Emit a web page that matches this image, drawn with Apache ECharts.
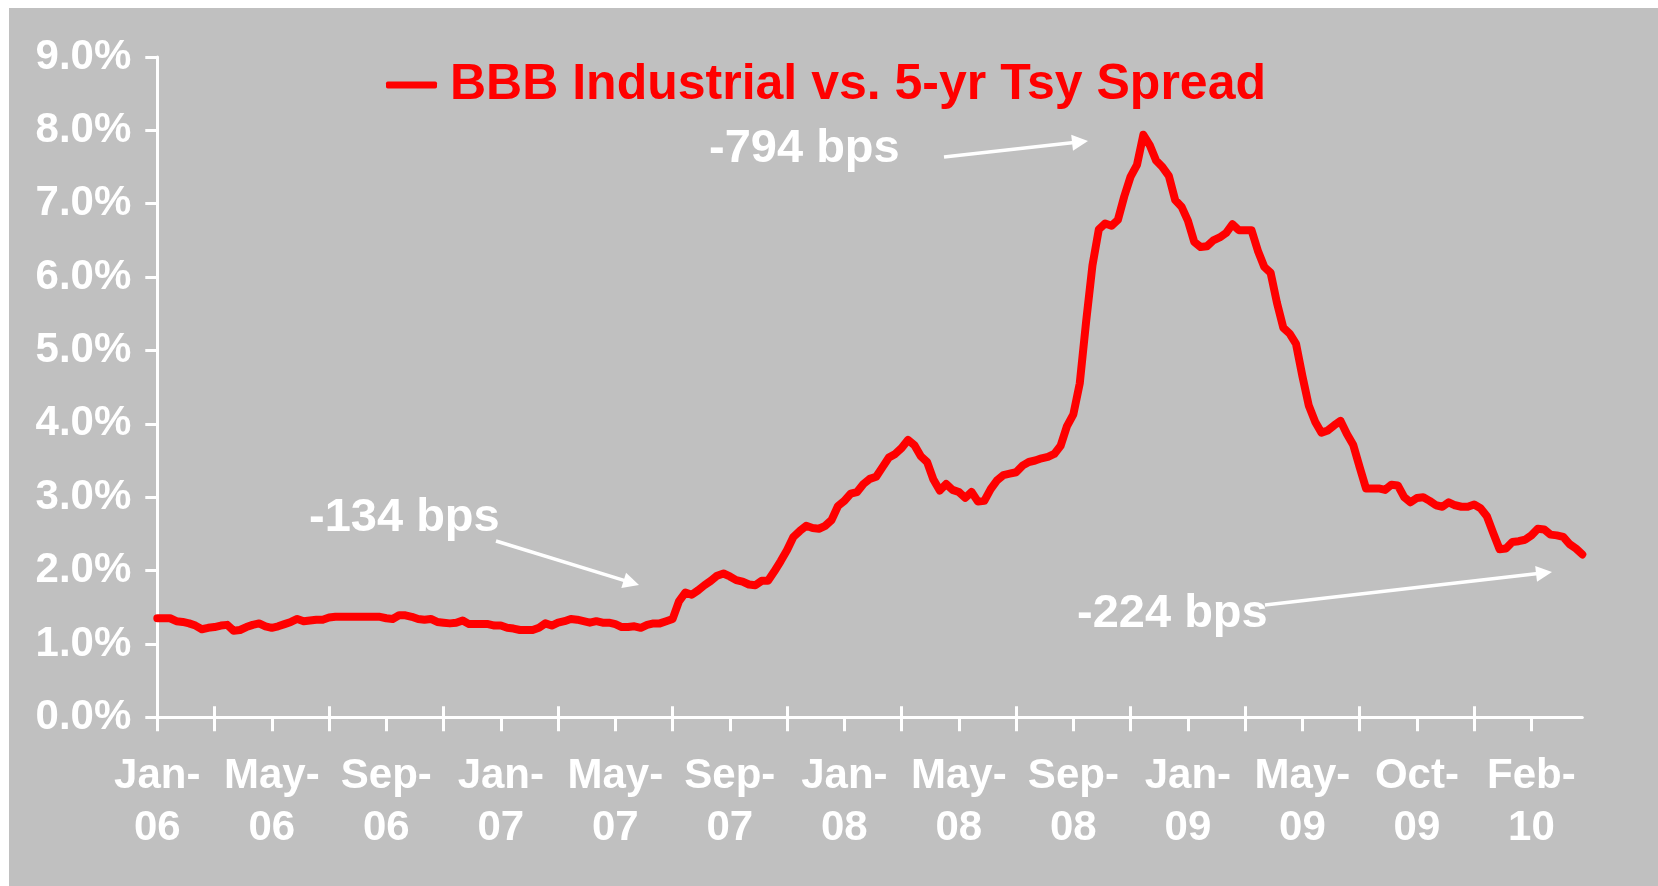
<!DOCTYPE html>
<html>
<head>
<meta charset="utf-8">
<script src="https://cdn.jsdelivr.net/npm/echarts@6/dist/echarts.min.js"></script>
<style>
  html, body { margin: 0; padding: 0; background: #ffffff; }
  #chart { width: 1658px; height: 886px; }
</style>
</head>
<body>
<div id="chart"></div>
<script>
// ---- data (weekly observations, Jan-06 .. Apr-10) ----
const seriesName = 'BBB Industrial vs. 5-yr Tsy Spread';
const tickLabels = ['Jan-06','May-06','Sep-06','Jan-07','May-07','Sep-07','Jan-08','May-08','Sep-08','Jan-09','May-09','Oct-09','Feb-10'];
const spread = [
  1.35,1.35,1.35,1.31,1.30,1.28,1.25,1.20,1.22,1.23,
  1.25,1.26,1.18,1.19,1.23,1.26,1.28,1.24,1.22,1.24,
  1.27,1.30,1.34,1.31,1.32,1.33,1.33,1.36,1.37,1.37,
  1.37,1.37,1.37,1.37,1.37,1.37,1.35,1.34,1.39,1.39,
  1.37,1.34,1.33,1.34,1.30,1.29,1.28,1.29,1.32,1.27,
  1.27,1.27,1.27,1.25,1.25,1.22,1.21,1.19,1.19,1.19,
  1.22,1.28,1.25,1.29,1.31,1.34,1.33,1.31,1.29,1.31,
  1.29,1.29,1.27,1.23,1.23,1.24,1.22,1.26,1.28,1.28,
  1.31,1.34,1.58,1.70,1.67,1.73,1.80,1.86,1.93,1.96,
  1.92,1.87,1.85,1.81,1.80,1.86,1.86,1.99,2.13,2.28,
  2.46,2.54,2.61,2.58,2.57,2.61,2.69,2.88,2.95,3.05,
  3.07,3.18,3.25,3.28,3.41,3.54,3.59,3.67,3.78,3.71,
  3.56,3.48,3.24,3.09,3.18,3.10,3.07,2.99,3.07,2.94,
  2.95,3.11,3.23,3.30,3.32,3.34,3.43,3.48,3.50,3.53,
  3.55,3.59,3.70,3.97,4.13,4.55,5.39,6.16,6.65,6.73,
  6.70,6.78,7.10,7.37,7.53,7.94,7.80,7.59,7.50,7.38,
  7.05,6.96,6.77,6.48,6.41,6.42,6.50,6.54,6.60,6.72,
  6.64,6.64,6.64,6.36,6.14,6.06,5.65,5.31,5.23,5.09,
  4.65,4.25,4.03,3.88,3.91,3.98,4.04,3.86,3.71,3.41,
  3.12,3.12,3.12,3.10,3.17,3.16,3.00,2.93,2.99,3.00,
  2.95,2.89,2.87,2.93,2.89,2.87,2.87,2.90,2.85,2.74,
  2.51,2.29,2.30,2.39,2.40,2.42,2.48,2.57,2.56,2.49,
  2.48,2.46,2.36,2.30,2.22
];
const weeks = spread.map((_, i) => 'w' + i);   // one category per weekly observation
const TICK_EVERY = 9;       // categories between tick marks
const LABEL_EVERY = 18;     // categories between labels
const annotations = [
  { text: '-794 bps', x: 709, y: 149, from: [944, 157], to: [1088, 141] },
  { text: '-134 bps', x: 309, y: 518, from: [496, 541], to: [639, 585] },
  { text: '-224 bps', x: 1077, y: 614, from: [1265, 605], to: [1552, 572] }
];

const FONT = "'Liberation Sans', Arial, Helvetica, sans-serif";
const WHITE = '#FFFFFF';
const RED = '#FF0000';

function arrow(a) {
  const [x1, y1] = a.from, [x2, y2] = a.to;
  const dx = x2 - x1, dy = y2 - y1, L = Math.hypot(dx, dy);
  const ux = dx / L, uy = dy / L, nx = -uy, ny = ux;
  const hl = 16, hw = 8;
  const bx = x2 - ux * hl, by = y2 - uy * hl;
  return [
    { type: 'line', shape: { x1, y1, x2: bx + ux * 2, y2: by + uy * 2 },
      style: { stroke: WHITE, lineWidth: 3.5 }, silent: true, z: 10 },
    { type: 'polygon', shape: { points: [[x2, y2], [bx + nx * hw, by + ny * hw], [bx - nx * hw, by - ny * hw]] },
      style: { fill: WHITE }, silent: true, z: 10 }
  ];
}

const graphics = [
  { type: 'rect', shape: { x: 9, y: 8, width: 1649, height: 878 }, style: { fill: '#C0C0C0' }, z: -10, silent: true }
];
annotations.forEach(a => {
  graphics.push({ type: 'text', x: a.x, y: a.y, silent: true, z: 10,
    style: { text: a.text, fill: WHITE, font: 'bold 47px ' + FONT, textAlign: 'left', textVerticalAlign: 'middle' } });
  arrow(a).forEach(g => graphics.push(g));
});

const chart = echarts.init(document.getElementById('chart'), null, { renderer: 'canvas' });
chart.setOption({
  backgroundColor: '#FFFFFF',
  animation: false,
  textStyle: { fontFamily: FONT },
  graphic: { elements: graphics },
  legend: {
    left: 386, top: 60, padding: 0,
    itemWidth: 51, itemHeight: 7, icon: 'roundRect',
    textStyle: { color: RED, fontSize: 50, fontWeight: 'bold', fontFamily: FONT, padding: [0, 0, 0, 8] },
    data: [{ name: seriesName, itemStyle: { color: RED } }]
  },
  grid: { left: 157.3, right: 75.7, top: 57, bottom: 168.7, containLabel: false },
  xAxis: [
    {
      type: 'category', data: weeks, boundaryGap: false, position: 'bottom',
      axisLine: { show: true, lineStyle: { color: WHITE, width: 3 } },
      axisTick: { show: true, interval: (i) => i % TICK_EVERY === 0, length: 14, lineStyle: { color: WHITE, width: 3 } },
      axisLabel: {
        show: true, interval: (i) => i % LABEL_EVERY === 0, margin: 33,
        color: WHITE, fontSize: 42, fontWeight: 'bold', fontFamily: FONT, lineHeight: 52, align: 'center',
        formatter: (v, i) => {
          const k = i / LABEL_EVERY;
          return (Number.isInteger(k) && tickLabels[k]) ? tickLabels[k].replace('-', '-\n') : '';
        }
      },
      splitLine: { show: false }
    },
    {
      type: 'category', data: weeks, boundaryGap: false, position: 'bottom',
      axisLine: { show: false },
      axisTick: { show: true, inside: true, interval: (i) => i % LABEL_EVERY === TICK_EVERY, length: 11, lineStyle: { color: WHITE, width: 3 } },
      axisLabel: { show: false },
      splitLine: { show: false }
    }
  ],
  yAxis: {
    type: 'value', min: 0, max: 9, interval: 1,
    axisLine: { show: true, lineStyle: { color: WHITE, width: 3 } },
    axisTick: { show: true, length: 12, lineStyle: { color: WHITE, width: 3 } },
    axisLabel: { color: WHITE, fontSize: 42, fontWeight: 'bold', fontFamily: FONT, margin: 26,
      formatter: (v) => v.toFixed(1) + '%' },
    splitLine: { show: false }
  },
  series: [{
    name: seriesName, type: 'line', data: spread, xAxisIndex: 0,
    showSymbol: false, symbol: 'none', color: RED,
    lineStyle: { color: RED, width: 8, cap: 'round', join: 'round' },
    z: 5
  }]
});
</script>
</body>
</html>
